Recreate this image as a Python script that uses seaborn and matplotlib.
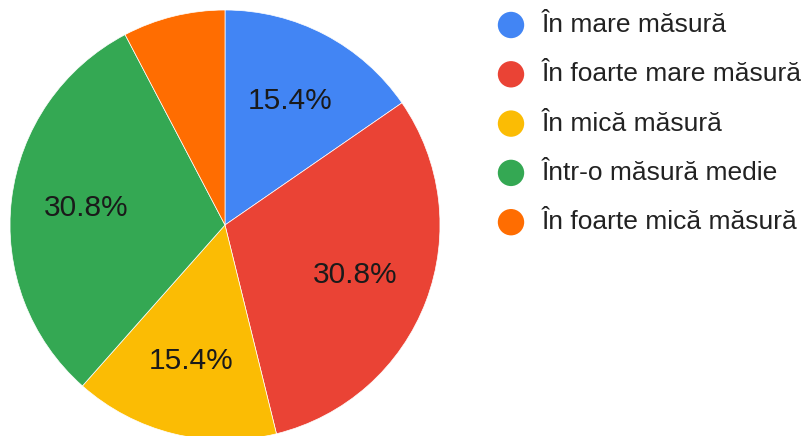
import matplotlib
matplotlib.use('Agg')
import matplotlib.pyplot as plt
import seaborn as sns

# Response shares (%), Google Forms style pie
categories = ['În mare măsură', 'În foarte mare măsură', 'În mică măsură',
              'Într-o măsură medie', 'În foarte mică măsură']
shares = [15.4, 30.8, 15.4, 30.8, 7.7]
slice_colors = ['#4285F4', '#EA4335', '#FBBC04', '#34A853', '#FF6D01']

sns.set_theme(style='white')
plt.rcParams['font.family'] = ['Liberation Sans', 'DejaVu Sans']
palette = sns.color_palette(slice_colors)

W, H = 809, 436
fig = plt.figure(figsize=(W / 100, H / 100), dpi=100)
ax = fig.add_axes([0, 0, 1, 1])
ax.axis('off')

# pie in pixel coordinates (y measured from bottom)
def pct_label(p):
    return f'{p:.1f}%' if p > 10 else ''

wedges, texts, autotexts = ax.pie(
    shares, colors=palette, startangle=90, counterclock=False,
    center=(225, H - 225), radius=215, autopct=pct_label, pctdistance=0.65,
    wedgeprops=dict(linewidth=0.5, edgecolor='white'),
    textprops=dict(fontsize=21.5, color='#1a1a1a'))
ax.set_xlim(0, W)
ax.set_ylim(0, H)
ax.set_aspect('equal')

# legend drawn in pixel space
for i, (name, col) in enumerate(zip(categories, palette)):
    y = H - (25 + i * 49.3)
    ax.scatter([511], [y], s=19 ** 2, color=col, edgecolors='none')
    ax.text(542, y, name, fontsize=19, color='#222222', va='center', ha='left')

fig.savefig('out.png', dpi=100)
